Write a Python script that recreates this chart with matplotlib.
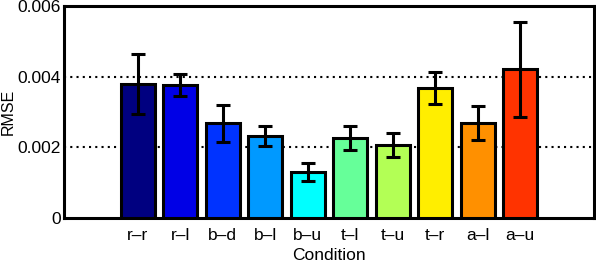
import matplotlib.pyplot as plt
import numpy as np

plt.rcParams['font.family'] = ['Liberation Sans', 'DejaVu Sans']

conditions = ['r\u2013r', 'r\u2013l', 'b\u2013d', 'b\u2013l', 'b\u2013u',
              't\u2013l', 't\u2013u', 't\u2013r', 'a\u2013l', 'a\u2013u']
rmse = [0.00380, 0.00377, 0.00268, 0.00232, 0.00130,
        0.00226, 0.00207, 0.00368, 0.00269, 0.00421]
err = [0.00085, 0.00031, 0.00052, 0.00027, 0.00026,
       0.00034, 0.00034, 0.00046, 0.00048, 0.00135]
colors = ['#000080', '#0000e6', '#0033ff', '#0099ff', '#00ffff',
          '#66ff99', '#b3ff55', '#ffee00', '#ff9000', '#ff3300']

fig = plt.figure(figsize=(5.96, 2.62), dpi=100)
ax = fig.add_axes([0.107, 0.168, 0.890, 0.809])

x = np.arange(len(conditions))
ax.bar(x, rmse, width=0.8, color=colors, edgecolor='black', linewidth=2.2, zorder=3)
ax.errorbar(x, rmse, yerr=err, fmt='none', ecolor='black', elinewidth=2.2,
            capsize=5, capthick=2.2, zorder=4)

ax.set_xlim(-1.74, 10.74)
ax.set_ylim(0, 0.006)
ax.set_yticks([0, 0.002, 0.004, 0.006])
ax.set_yticklabels(['0', '0.002', '0.004', '0.006'])
ax.set_xticks(x)
ax.set_xticklabels(conditions)
ax.tick_params(length=0, labelsize=12.5, pad=2)
ax.tick_params(axis='x', pad=7)
for yv in [0.002, 0.004]:
    ax.axhline(yv, color='black', linestyle=(0, (1, 2)), linewidth=1.5, zorder=1)
for s in ax.spines.values():
    s.set_linewidth(2.2)

ax.set_xlabel('Condition', fontsize=12.5, labelpad=4)
ax.set_ylabel('RMSE', fontsize=11.5)
ax.yaxis.set_label_coords(-0.090, 0.5)

fig.savefig('out.png', dpi=100)
